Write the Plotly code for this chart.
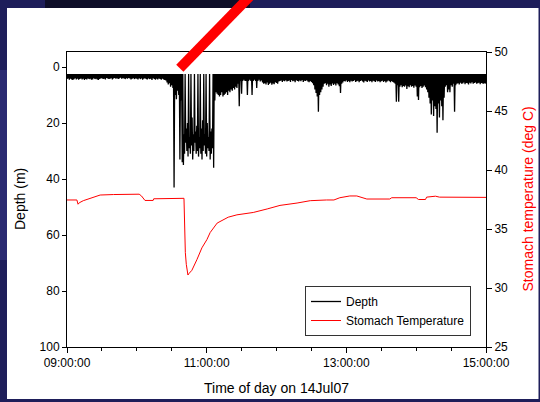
import plotly.graph_objects as go
import pandas as pd

DAY = "2007-07-14"
START = "09:00:00"

# Per-minute deepest reading (m), 09:00 .. 15:00 (361 values)
depth_max = [
    4.3, 4.1, 4.5, 4.2, 4.4, 4.6, 4.3, 4.0, 4.4, 4.2,
    4.5, 4.3, 4.1, 4.4, 4.2, 4.6, 4.3, 4.4, 4.1, 4.3,
    4.2, 4.5, 4.4, 4.0, 4.3, 4.2, 4.4, 4.6, 4.3, 4.1,
    4.0, 4.3, 4.2, 4.4, 3.9, 4.1, 4.3, 4.2, 4.0, 4.4,
    4.1, 3.9, 4.2, 4.0, 4.3, 4.1, 3.8, 4.2, 4.0, 4.1,
    4.3, 4.0, 4.2, 3.9, 4.1, 4.4, 4.2, 4.0, 4.3, 4.1,
    4.2, 4.4, 4.0, 4.3, 4.1, 4.5, 4.2, 4.0, 4.3, 4.4,
    4.1, 4.3, 4.2, 4.6, 4.0, 4.3, 4.5, 4.2, 4.4, 4.1,
    4.3, 4.5, 4.2, 4.4, 4.6, 4.8, 5.5, 6.2, 5.8, 7.0,
    6.5, 7.5, 43.0, 10.0, 11.5, 8.5, 10.0, 33.0, 12.0, 34.0,
    35.0, 31.0, 27.0, 30.0, 32.0, 29.0, 31.0, 28.0, 33.0, 30.0,
    27.0, 31.0, 30.0, 32.0, 29.0, 31.0, 33.0, 30.0, 28.0, 31.0,
    32.0, 29.0, 30.0, 33.0, 31.0, 29.0, 36.0, 12.0, 9.0, 9.5,
    10.0, 10.5, 10.0, 9.0, 10.5, 10.0, 9.5, 9.0, 10.0, 8.5,
    9.0, 8.0, 8.5, 7.5, 8.0, 7.0, 7.5, 6.0, 14.0, 5.0,
    9.5, 5.0, 4.5, 5.0, 5.0, 10.0, 5.0, 4.5, 5.0, 10.0,
    5.0, 4.5, 5.0, 7.5, 5.0, 4.5, 5.2, 4.8, 5.5, 6.0,
    5.8, 6.2, 5.5, 6.4, 6.0, 5.6, 6.3, 5.9, 6.1, 5.4,
    5.7, 6.0, 5.2, 5.0, 4.8, 5.3, 4.9, 5.1, 4.7, 5.2,
    5.0, 4.8, 5.3, 4.6, 5.1, 4.9, 5.4, 4.7, 5.0, 5.2,
    4.8, 5.1, 4.6, 5.3, 4.9, 5.0, 4.7, 5.2, 5.4, 5.0,
    5.3, 5.8, 6.5, 8.0, 9.3, 10.5, 16.0, 10.0, 9.0, 8.0,
    7.0, 6.0, 5.8, 6.5, 6.0, 7.0, 6.2, 6.8, 5.9, 6.4,
    6.0, 6.6, 5.8, 6.2, 6.9, 9.3, 6.0, 5.5, 5.0, 5.2,
    4.8, 5.3, 5.0, 5.4, 4.9, 5.2, 5.0, 4.7, 5.3, 5.1,
    4.9, 5.4, 5.0, 4.8, 5.2, 5.5, 4.9, 5.1, 5.3, 4.8,
    5.2, 5.0, 5.4, 4.9, 5.1, 5.3, 4.8, 5.2, 5.0, 5.4,
    5.1, 4.9, 5.3, 5.0, 5.5, 5.2, 4.8, 5.1, 5.4, 5.0,
    5.3, 5.6, 6.0, 12.4, 6.5, 12.4, 7.0, 6.5, 7.2, 6.8,
    7.0, 6.6, 7.8, 6.9, 7.2, 6.5, 7.0, 6.8, 7.4, 6.6,
    7.0, 10.5, 11.8, 7.2, 6.8, 7.5, 7.0, 6.6, 7.2, 8.0,
    9.0, 11.0, 13.0, 17.0, 12.0, 17.5, 14.0, 15.0, 23.5, 13.0,
    18.0, 12.0, 14.0, 19.0, 11.0, 7.0, 6.5, 9.0, 8.0, 9.0,
    6.5, 7.0, 6.0, 16.0, 6.5, 6.0, 5.8, 6.2, 5.6, 6.0,
    5.9, 5.5, 6.1, 5.7, 5.8, 6.2, 5.6, 5.9, 5.4, 6.0,
    5.7, 5.5, 6.0, 5.8, 5.6, 6.1, 5.7, 5.9, 6.0, 5.8,
    6.0,
]
# Shallowest reading between consecutive minutes (surface band top)
surface_depth = 2.5
# Minutes during the deep bout where the bird stayed down between dives
held_between = {
    100: 24.0, 102: 22.0, 103: 20.0, 105: 25.0, 107: 18.0, 108: 24.0,
    110: 23.0, 111: 21.0, 113: 25.0, 115: 22.0, 116: 19.0, 118: 24.0,
    120: 20.0, 121: 25.0, 123: 23.0, 124: 22.0,
}

temp_times = [
    "09:00:00", "09:08:30", "09:09:30", "09:10:30", "09:14:00", "09:20:00",
    "09:28:30", "09:40:00", "09:47:30", "10:02:00", "10:04:00", "10:07:00",
    "10:14:00", "10:14:30", "10:40:30", "10:41:00", "10:41:40", "10:42:30",
    "10:43:54", "10:45:00", "10:47:18", "10:51:36", "10:55:54", "11:00:12",
    "11:03:00", "11:09:00", "11:18:30", "11:26:00", "11:40:00", "11:52:00",
    "12:03:00", "12:17:40", "12:29:00", "12:43:00", "12:49:20", "12:54:24",
    "13:03:00", "13:09:00", "13:17:36", "13:37:20", "13:39:00", "14:00:00",
    "14:02:00", "14:08:00", "14:09:00", "14:16:36", "14:20:00", "15:00:00",
]
temp_values = [
    37.46, 37.46, 37.10, 37.22, 37.40, 37.62,
    37.88, 37.92, 37.95, 37.95, 37.80, 37.42,
    37.42, 37.56, 37.60, 34.00, 33.00, 32.00,
    31.10, 31.25, 31.50, 32.40, 33.40, 34.10,
    34.70, 35.50, 36.00, 36.20, 36.40, 36.70,
    37.00, 37.20, 37.40, 37.46, 37.46, 37.65,
    37.80, 37.80, 37.54, 37.54, 37.65, 37.65,
    37.50, 37.50, 37.70, 37.78, 37.70, 37.68,
]

depth_ticks = [0, 20, 40, 60, 80, 100]
temp_ticks = [25, 30, 35, 40, 45, 50]

# ---- build traces ----
t0 = pd.Timestamp(f"{DAY} {START}")
dx, dy = [], []
for i, d in enumerate(depth_max):
    dx.append(t0 + pd.Timedelta(minutes=i))
    dy.append(d)
    if i < len(depth_max) - 1:
        dx.append(t0 + pd.Timedelta(minutes=i + 0.5))
        dy.append(held_between.get(i, surface_depth))

tx = [pd.Timestamp(f"{DAY} {t}") for t in temp_times]

FONT = "Liberation Sans, Arial, sans-serif"
W, H = 540, 402
L, R, T, B = 67, 486, 52, 347


def px_x(p):
    return (p - L) / (R - L)


def px_y(p):
    return (B - p) / (B - T)


fig = go.Figure()
fig.add_trace(go.Scatter(
    x=dx, y=dy, mode="lines", name="Depth",
    line=dict(color="black", width=1.3, simplify=False), yaxis="y",
))
fig.add_trace(go.Scatter(
    x=tx, y=temp_values, mode="lines", name="Stomach Temperature",
    line=dict(color="#ff0000", width=1), yaxis="y2",
))

shapes = [
    # white slide panel
    dict(type="rect", xref="paper", yref="paper", layer="below",
         x0=px_x(7), x1=px_x(538.5), y0=px_y(399), y1=px_y(8),
         fillcolor="white", line=dict(width=0)),
    # darker band at top of slide background
    dict(type="rect", xref="paper", yref="paper", layer="below",
         x0=px_x(45), x1=px_x(250), y0=px_y(8), y1=px_y(0),
         fillcolor="#0e0e28", line=dict(width=0)),
    dict(type="rect", xref="paper", yref="paper", layer="below",
         x0=px_x(0), x1=px_x(7), y0=px_y(260), y1=px_y(70),
         fillcolor="#2a2a72", line=dict(width=0)),
    # red pointer
    dict(type="line", xref="paper", yref="paper", layer="above",
         x0=px_x(179.8), y0=px_y(68.3), x1=px_x(258), y1=px_y(-12),
         line=dict(color="#ff0000", width=10)),
]

annotations = [
    dict(text="Depth (m)", xref="paper", yref="paper", x=px_x(19.5), y=0.5,
         textangle=-90, showarrow=False, xanchor="center", yanchor="middle",
         font=dict(family=FONT, size=14, color="black")),
    dict(text="Stomach temperature (deg C)", xref="paper", yref="paper",
         x=px_x(527), y=0.5, textangle=-90, showarrow=False,
         xanchor="center", yanchor="middle",
         font=dict(family=FONT, size=14, color="#ff0000")),
    dict(text="Time of day on 14Jul07", xref="paper", yref="paper",
         x=0.5, y=px_y(387.5), showarrow=False, xanchor="center",
         yanchor="middle", font=dict(family=FONT, size=14, color="black")),
]

fig.update_layout(
    width=W, height=H,
    margin=dict(l=L, r=W - R, t=T, b=H - B, pad=0),
    paper_bgcolor="#1e1e5a",
    plot_bgcolor="white",
    font=dict(family=FONT, size=12, color="black"),
    showlegend=True,
    legend=dict(
        x=px_x(471), y=px_y(336), xanchor="right", yanchor="bottom",
        bgcolor="white", bordercolor="#333333", borderwidth=1,
        font=dict(family=FONT, size=12, color="black"),
        tracegroupgap=0,
    ),
    xaxis=dict(
        type="date",
        range=[f"{DAY} 09:00:00", f"{DAY} 15:00:00"],
        tick0=f"{DAY} 09:00:00", dtick=2 * 3600 * 1000,
        tickformat="%H:%M:%S",
        ticks="outside", ticklen=5, tickwidth=1, tickcolor="black",
        minor=dict(dtick=30 * 60 * 1000, tick0=f"{DAY} 09:00:00",
                   ticks="outside", ticklen=3, tickcolor="black",
                   showgrid=False),
        showline=True, linecolor="black", linewidth=1, mirror=True,
        showgrid=False, zeroline=False,
        tickfont=dict(family=FONT, size=12, color="black"),
    ),
    yaxis=dict(
        range=[100, -5.36],
        tickvals=depth_ticks,
        ticks="outside", ticklen=4, tickwidth=1, tickcolor="black",
        showline=True, linecolor="black", linewidth=1,
        showgrid=False, zeroline=False,
        tickfont=dict(family=FONT, size=12, color="black"),
    ),
    yaxis2=dict(
        overlaying="y", side="right", anchor="x",
        range=[25, 50], tickvals=temp_ticks,
        ticks="outside", ticklen=5, tickwidth=1, tickcolor="black",
        showline=True, linecolor="black", linewidth=1,
        showgrid=False, zeroline=False,
        tickfont=dict(family=FONT, size=12, color="black"),
    ),
    shapes=shapes,
    annotations=annotations,
)

fig.write_html("out.html")
